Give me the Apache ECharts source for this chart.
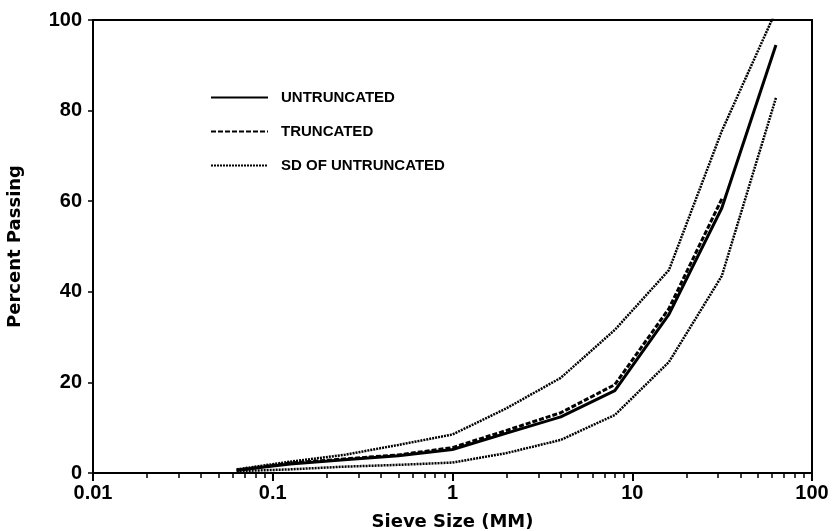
<!DOCTYPE html>
<html>
<head>
<meta charset="utf-8">
<script src="https://cdn.jsdelivr.net/npm/echarts@6/dist/echarts.min.js"></script>
<style>
html,body{margin:0;padding:0;background:#fff;}
#chart{width:833px;height:531px;}
</style>
</head>
<body>
<div id="chart"></div>
<script>
// Sieve sizes (mm)
var sizes = [0.063, 0.125, 0.25, 0.5, 1, 2, 4, 8, 16, 31.5, 63];
// Percent passing
var untruncated = [0.6, 2.0, 2.9, 3.8, 5.2, 8.8, 12.4, 18.2, 35, 58.5, 94.5];
var truncated   = [0.6, 2.2, 3.1, 4.0, 5.6, 9.4, 13.3, 19.5, 36.3, 60.5];
var sdUpper     = [0.8, 2.5, 4.0, 6.2, 8.5, 14.3, 21, 31.6, 44.8, 75.5, 102];
var sdLower     = [0.4, 0.8, 1.4, 1.8, 2.3, 4.4, 7.3, 12.8, 24.5, 43.5, 82.8];
var majorTicks  = [0.01, 0.1, 1, 10, 100];
var minorTicks  = [0.02,0.03,0.04,0.05,0.06,0.07,0.08,0.09,
                   0.2,0.3,0.4,0.5,0.6,0.7,0.8,0.9,
                   2,3,4,5,6,7,8,9,
                   20,30,40,50,60,70,80,90];

function pairs(vals){ return vals.map(function(v,i){ return [sizes[i], v]; }); }

var FONT = 'Liberation Sans, Arial, sans-serif';
var HEAVY = 'DejaVu Sans, sans-serif';
var chart = echarts.init(document.getElementById('chart'), null, {renderer:'canvas'});
chart.setOption({
  backgroundColor:'#fff',
  animation:false,
  grid:{left:93, right:21, top:20, bottom:58, containLabel:false, outerBoundsMode:'none',
        show:true, borderColor:'#000', borderWidth:2, backgroundColor:'transparent'},
  legend:{
    orient:'vertical', left:205, top:85, itemWidth:57, itemHeight:14, itemGap:19,
    itemStyle:{opacity:0},
    textStyle:{fontFamily:FONT, fontSize:15, fontWeight:'bold', color:'#000', padding:[0,0,0,8]},
    data:['UNTRUNCATED','TRUNCATED','SD OF UNTRUNCATED']
  },
  xAxis:[{
    type:'log', logBase:10, min:0.01, max:100, position:'bottom',
    name:'Sieve Size (MM)', nameLocation:'middle', nameGap:40,
    nameTextStyle:{fontFamily:HEAVY, fontSize:18, fontWeight:'bold', color:'#000'},
    axisLine:{show:true, lineStyle:{color:'#000', width:2}},
    axisTick:{show:true, inside:false, length:8, lineStyle:{color:'#000', width:2}, customValues:majorTicks},
    axisLabel:{fontFamily:FONT, fontSize:20, fontWeight:'bold', color:'#000', margin:10, customValues:majorTicks},
    minorTick:{show:false},
    splitLine:{show:false}
  },{
    type:'log', logBase:10, min:0.01, max:100, position:'bottom', offset:0,
    axisLine:{show:false},
    axisTick:{show:true, inside:false, length:5, lineStyle:{color:'#000', width:1.5}, customValues:minorTicks},
    axisLabel:{show:false},
    splitLine:{show:false}
  }],
  yAxis:{
    type:'value', min:0, max:100, interval:20,
    name:'Percent Passing', nameLocation:'middle', nameGap:69, nameRotate:90,
    nameTextStyle:{fontFamily:HEAVY, fontSize:18, fontWeight:'bold', color:'#000'},
    axisLine:{show:true, lineStyle:{color:'#000', width:2}},
    axisTick:{show:true, inside:false, length:5, lineStyle:{color:'#000', width:1.5}},
    axisLabel:{fontFamily:FONT, fontSize:20, fontWeight:'bold', color:'#000', margin:11},
    splitLine:{show:false}
  },
  series:[{
    name:'UNTRUNCATED', type:'line', symbol:'none', clip:true,
    lineStyle:{color:'#000', width:3, type:'solid'},
    itemStyle:{color:'#000'},
    data:pairs(untruncated)
  },{
    name:'TRUNCATED', type:'line', symbol:'none', clip:true,
    lineStyle:{color:'#000', width:3, type:[5,2]},
    itemStyle:{color:'#000'},
    data:pairs(truncated)
  },{
    name:'SD OF UNTRUNCATED', type:'line', symbol:'none', clip:true,
    lineStyle:{color:'#000', width:2.5, type:[2,1]},
    itemStyle:{color:'#000'},
    data:pairs(sdUpper)
  },{
    name:'SD OF UNTRUNCATED', type:'line', symbol:'none', clip:true,
    lineStyle:{color:'#000', width:2.5, type:[2,1]},
    itemStyle:{color:'#000'},
    data:pairs(sdLower)
  }]
});
</script>
</body>
</html>
